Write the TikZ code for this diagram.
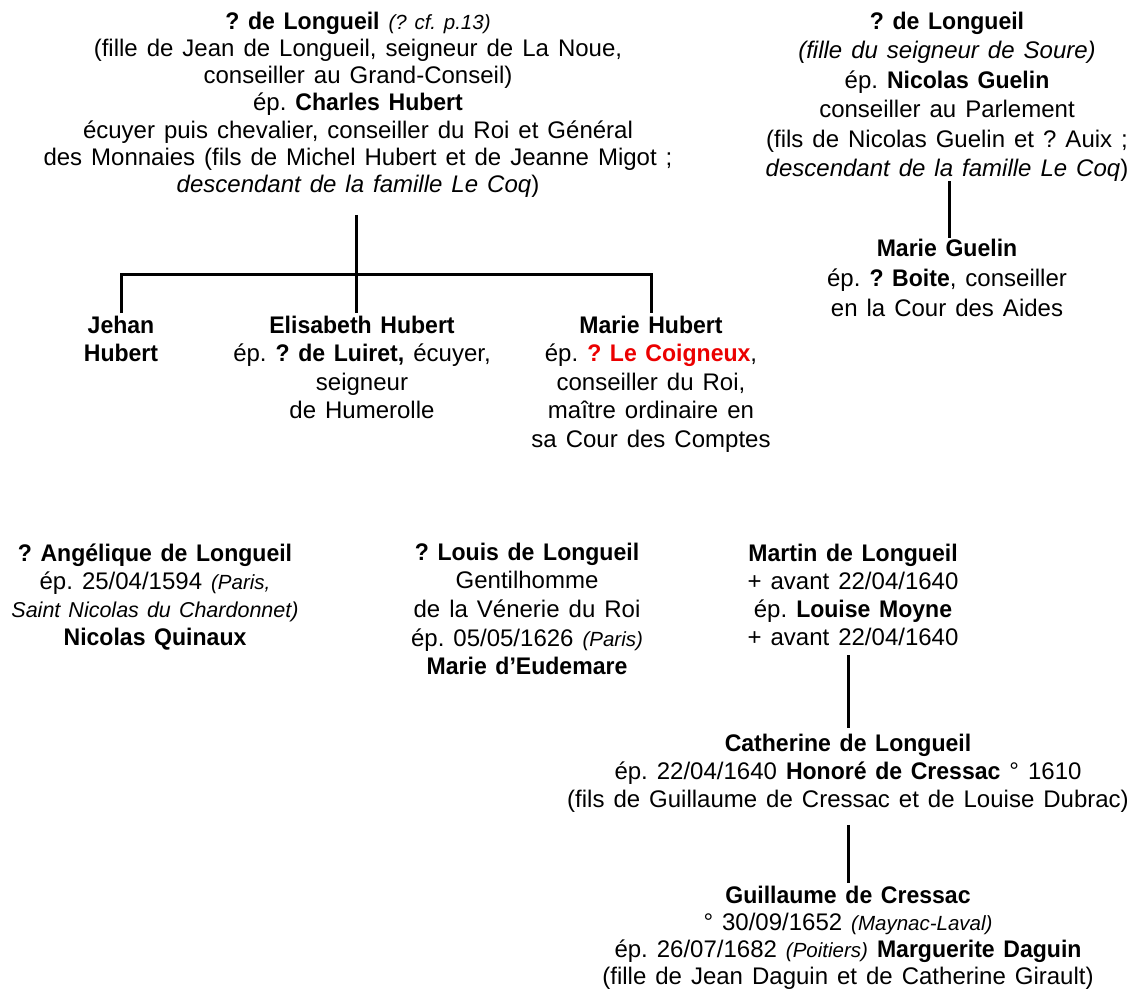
\documentclass[tikz,border=0pt]{standalone}
\usepackage{fontspec}
\setmainfont{Liberation Sans}[WordSpace=1.35,BoldFeatures={FakeStretch=0.96}]
\usetikzlibrary{calc}
\definecolor{cred}{RGB}{235,0,0}
\newcommand\lnstrut{\rule{0pt}{20pt}}
\newcommand\smit[1]{{\fontsize{20.5pt}{24pt}\selectfont\itshape #1}}
\frenchspacing
\begin{document}
\begin{tikzpicture}[x=1pt,y=-1pt,
  every node/.style={inner sep=0pt, outer sep=0pt, align=center, anchor=north,
    font=\fontsize{24pt}{28pt}\selectfont\frenchspacing},
  sp/.style={font=\fontsize{24pt}{#1}\selectfont\frenchspacing},
  link/.style={line width=3pt}]
\useasboundingbox (0,0) rectangle (1133,991);

\node[sp=27.3pt] (A) at (358,9) {\lnstrut\textbf{? de Longueil} \smit{(? cf. p.13)}\\
(fille de Jean de Longueil, seigneur de La Noue,\\
conseiller au Grand-Conseil)\\
ép. \textbf{Charles Hubert}\\
écuyer puis chevalier, conseiller du Roi et Général\\
des Monnaies (fils de Michel Hubert et de Jeanne Migot ;\\
\textit{descendant de la famille Le Coq})};

\node[sp=29.5pt] (B) at (947,9) {\lnstrut\textbf{? de Longueil}\\
\textit{(fille du seigneur de Soure)}\\
ép. \textbf{Nicolas Guelin}\\
conseiller au Parlement\\
(fils de Nicolas Guelin et ? Auix ;\\
\textit{descendant de la famille Le Coq})};

\node[sp=30pt] (MG) at (947,236) {\lnstrut\textbf{Marie Guelin}\\
ép. \textbf{? Boite}, conseiller\\
en la Cour des Aides};

\node[sp=28.5pt] (J) at (121,313) {\lnstrut\textbf{Jehan}\\ \textbf{Hubert}};

\node[sp=28.5pt] (E) at (362,313) {\lnstrut\textbf{Elisabeth Hubert}\\
ép. \textbf{? de Luiret,} écuyer,\\
seigneur\\
de Humerolle};

\node[sp=28.5pt] (MH) at (651,313) {\lnstrut\textbf{Marie Hubert}\\
ép. \textcolor{cred}{\textbf{? Le Coigneux}},\\
conseiller du Roi,\\
maître ordinaire en\\
sa Cour des Comptes};

\node[sp=28pt] (AN) at (155,541) {\lnstrut\textbf{? Angélique de Longueil}\\
ép. 25/04/1594 \smit{(Paris,}\\
{\fontsize{21.5pt}{24pt}\selectfont\itshape Saint Nicolas du Chardonnet)}\\
\textbf{Nicolas Quinaux}};

\node[sp=28.7pt] (L) at (527,540) {\lnstrut\textbf{? Louis de Longueil}\\
Gentilhomme\\
de la Vénerie du Roi\\
ép. 05/05/1626 \smit{(Paris)}\\
\textbf{Marie d’Eudemare}};

\node[sp=28.3pt] (M) at (853,541) {\lnstrut\textbf{Martin de Longueil}\\
+ avant 22/04/1640\\
ép. \textbf{Louise Moyne}\\
+ avant 22/04/1640};

\node[sp=28pt] (C) at (848,731) {\lnstrut\textbf{Catherine de Longueil}\\
ép. 22/04/1640 \textbf{Honoré de Cressac} ° 1610\\
(fils de Guillaume de Cressac et de Louise Dubrac)};

\node[sp=27pt] (G) at (848,883) {\lnstrut\textbf{Guillaume de Cressac}\\
° 30/09/1652 \smit{(Maynac-Laval)}\\
ép. 26/07/1682 \smit{(Poitiers)} \textbf{Marguerite Daguin}\\
(fille de Jean Daguin et de Catherine Girault)};

\coordinate (bar) at (0,274);
\draw[link] ($(A.south)+(-2pt,-17pt)$) -- ($(A.south |- E.north)+(-2pt,0)$);
\draw[link] (J.north) -- (J.north |- bar) -- (MH.north |- bar) -- (MH.north);
\draw[link] ($(B.south)+(2pt,0)$) -- ($(B.south |- MG.north)+(2pt,-2pt)$);
\draw[link] ($(C.north |- M.south)+(0,-9pt)$) -- ($(C.north)+(0,3pt)$);
\draw[link] ($(C.south)+(0,-13pt)$) -- (G.north);
\end{tikzpicture}
\end{document}
